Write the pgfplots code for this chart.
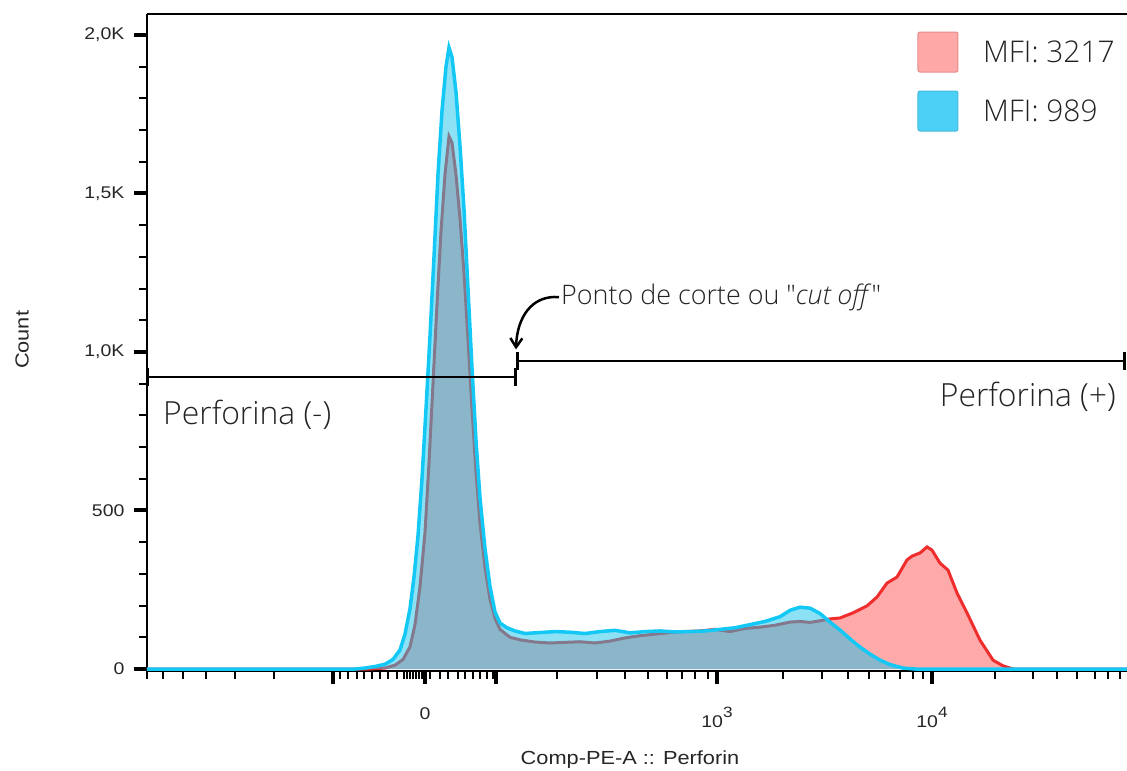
\documentclass[border=0pt]{standalone}
\usepackage{pgfplots}
\pgfplotsset{compat=1.18}
\usepackage{fontspec}
\setmainfont{Open Sans Light}[Ligatures=TeXOff, ItalicFont={Open Sans Light Italic}]
\newfontfamily\arialfont{Liberation Sans}[FakeStretch=1.15]
\usetikzlibrary{arrows.meta}
\definecolor{pinkfill}{RGB}{255,170,170}
\definecolor{redline}{RGB}{240,45,45}
\definecolor{bluefill}{RGB}{25,195,235}
\definecolor{blueline}{RGB}{20,200,245}
\definecolor{pinkleg}{RGB}{255,168,168}
\definecolor{pinkborder}{RGB}{230,140,140}
\definecolor{blueleg}{RGB}{77,208,245}
\definecolor{textgray}{RGB}{35,35,35}

\pgfplotstableread{
x y
147 0
370 0
385 3
395 12
403 30
410 70
415 140
420 260
425 430
429 650
433 900
437 1150
441 1380
445 1560
449 1680
452 1660
456 1560
460 1420
464 1250
468 1040
472 820
476 620
480 460
485 320
490 220
495 160
500 125
510 100
520 92
535 85
550 82
565 84
580 86
595 82
610 88
625 98
640 105
655 110
670 115
685 118
700 120
715 125
730 118
745 128
760 132
775 138
790 148
800 150
810 147
820 152
830 158
840 161
853 177
867 199
877 227
887 271
897 290
907 344
912 356
920 366
927 385
932 375
940 334
948 312
957 240
967 177
980 91
993 28
1003 10
1013 0
1127 0
}\redtable

\pgfplotstableread{
x y
147 0
355 0
365 3
375 8
385 15
393 30
400 60
405 110
410 190
414 290
418 420
422 600
426 820
430 1050
434 1300
438 1560
442 1760
446 1900
449 1960
452 1930
456 1820
460 1650
464 1450
468 1200
472 950
476 720
480 540
485 380
490 260
495 180
500 145
507 130
515 120
525 112
540 115
555 118
570 116
585 112
600 118
615 122
630 114
645 118
660 120
675 117
690 118
705 120
720 125
735 130
750 140
765 150
780 165
790 185
800 195
810 192
820 175
830 148
840 123
850 95
860 69
870 47
880 28
890 14
903 3
915 0
1127 0
}\bluetable

\begin{document}
\begin{tikzpicture}[x=1bp,y=1bp]
\path[use as bounding box] (-147bp,-100bp) rectangle (980bp,671bp);
\begin{axis}[
  at={(0,0)}, anchor=south west,
  scale only axis, width=980bp, height=657bp,
  xmin=147, xmax=1127, ymin=-6.3, ymax=2066,
  axis x line*=bottom, axis y line*=left,
  axis line style={line width=1.5bp, -},
  tick align=outside,
  xtick={333,425,496,717,932},
  xticklabels={,0,,10\raisebox{0.55em}{\fontsize{15}{15}\selectfont 3},10\raisebox{0.55em}{\fontsize{15}{15}\selectfont 4}},
  minor xtick={147,163,183,206,235,274,340,348,357,364,372,380,388,397,404,407,410,413,416,419,422,430,440,448,458,465,473,480,487,493,557,597,625,648,667,682,695,708,783,822,848,869,885,900,913,923,995,1033,1057,1077,1095,1108,1120},
  ytick={0,500,1000,1500,2000},
  yticklabels={0,500,{1,0K},{1,5K},{2,0K}},
  minor y tick num=4,
  major tick length=13bp, minor tick length=8bp,
  every major tick/.append style={line width=4bp, black},
  every minor tick/.append style={line width=2bp, black},
  tick label style={font=\arialfont\fontsize{17}{19}\selectfont, text=black!85},
  xticklabel style={yshift=-20bp},
  yticklabel style={xshift=-6bp},
  clip=false,
]
\addplot[draw=redline, line width=3bp, fill=pinkfill] table[x=x,y=y] {\redtable};
\addplot[draw=blueline, line width=3.5bp, fill=bluefill, fill opacity=0.5, draw opacity=1] table[x=x,y=y] {\bluetable};

\draw[line width=1.5bp] (rel axis cs:0,1) -- (rel axis cs:1,1);

% gate lines
\draw[line width=2.5bp] (axis cs:147,921) -- (axis cs:516,921);
\draw[line width=3bp] (axis cs:148,950) -- (axis cs:148,893);
\draw[line width=3bp] (axis cs:516,950) -- (axis cs:516,893);
\draw[line width=2.5bp] (axis cs:518,972) -- (axis cs:1125,972);
\draw[line width=3bp] (axis cs:518,1000) -- (axis cs:518,943);
\draw[line width=3bp] (axis cs:1125,1000) -- (axis cs:1125,943);

\node[anchor=west, inner sep=0, font=\fontsize{32}{36}\selectfont, text=textgray] at (axis cs:163,801) {Perforina (-)};
\node[anchor=east, inner sep=0, font=\fontsize{32}{36}\selectfont, text=textgray] at (axis cs:1116,858) {Perforina (+)};
\node[anchor=west, inner sep=0, font=\fontsize{27}{30}\selectfont, text=textgray] at (axis cs:561,1173) {Ponto de corte ou "\textit{cut off}"};
\draw[line width=2.5bp, -{Straight Barb[length=9bp,width=12bp]}] (axis cs:559,1173) .. controls (axis cs:532,1180) and (axis cs:517,1110) .. (axis cs:516,1008);

% legend
\node[draw=pinkborder, fill=pinkleg, rounded corners=2bp, minimum size=40bp, inner sep=0, line width=1bp] at (axis cs:938,1946) {};
\node[draw=blueleg!90!black, fill=blueleg, rounded corners=2bp, minimum size=40bp, inner sep=0, line width=1bp] at (axis cs:938,1760) {};
\node[anchor=west, inner sep=0, font=\fontsize{30}{34}\selectfont, text=textgray] at (axis cs:983,1946) {MFI: 3217};
\node[anchor=west, inner sep=0, font=\fontsize{30}{34}\selectfont, text=textgray] at (axis cs:983,1760) {MFI: 989};

% axis labels
\node[rotate=90, font=\arialfont\fontsize{19}{21}\selectfont, text=black!85] at (axis cs:22,1038) {Count};
\node[font=\arialfont\fontsize{19}{21}\selectfont, text=black!85] at (axis cs:630,-287) {Comp-PE-A :: Perforin};
\end{axis}
\end{tikzpicture}
\end{document}
